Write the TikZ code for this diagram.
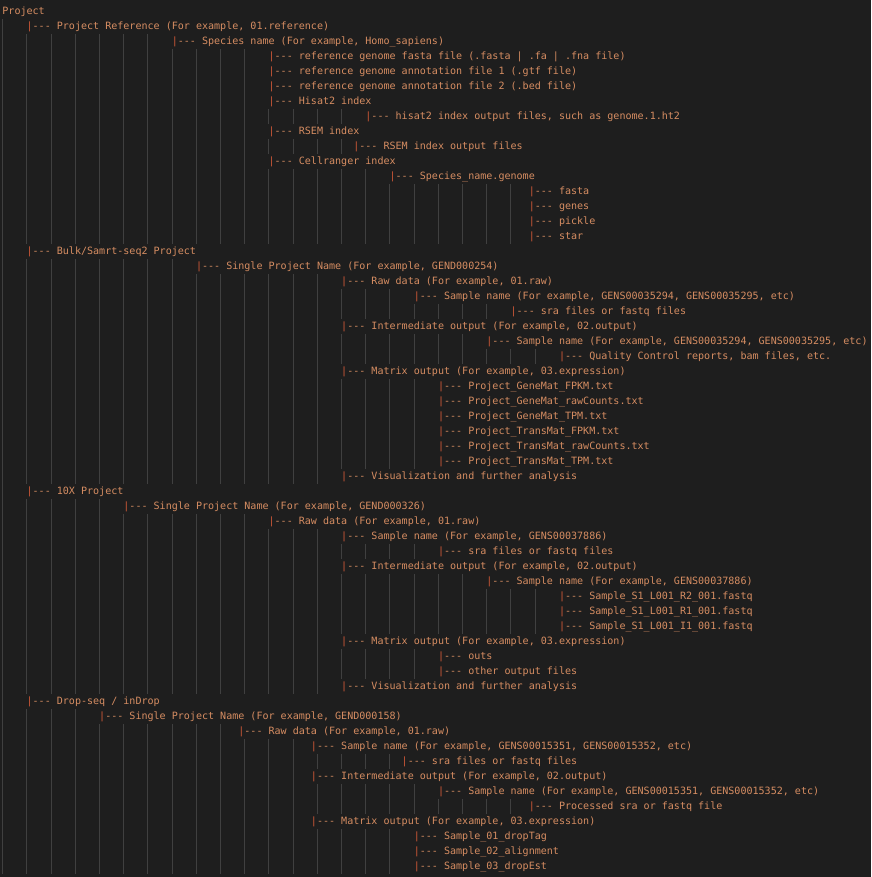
\documentclass[tikz,border=0pt]{standalone}
\usepackage{fontspec}
\setmonofont{DejaVu Sans Mono}
\usepackage{tikz}
\definecolor{editorbg}{HTML}{1E1E1E}
\definecolor{guidecol}{HTML}{404040}
\definecolor{textcol}{HTML}{D68D62}
\definecolor{barcol}{HTML}{D45A38}
\tikzset{
  entry/.style={anchor=base west, inner sep=0pt, text=textcol,
    font=\ttfamily\fontsize{10.05}{15}\selectfont},
  guide/.style={draw=guidecol, line width=1pt}
}
\newcommand{\vb}{\textcolor{barcol}{|}}
\newcommand{\treerow}[3]{%
  \node[entry] (r#1) at ({2.2+6.05*#2},{14.3+15.0*(#1-1)}) {#3};
  \ifnum#2>0
    \pgfmathtruncatemacro{\nlev}{(#2-1)/4}
    \foreach \k in {0,...,\nlev}
      \draw[guide] ({2.7+24.2*\k},{4.0+15.0*(#1-1)}) -- ++(0,15.0);
  \fi
}

\begin{document}
\begin{tikzpicture}[x=1pt,y=-1pt]
\fill[editorbg] (0,0) rectangle (871,877);
\useasboundingbox (0,0) rectangle (871,877);

\treerow{1}{0}{Project}
\treerow{2}{4}{\vb--- Project Reference (For example, 01.reference)}
\treerow{3}{28}{\vb--- Species name (For example, Homo\_sapiens)}
\treerow{4}{44}{\vb--- reference genome fasta file (.fasta | .fa | .fna file)}
\treerow{5}{44}{\vb--- reference genome annotation file 1 (.gtf file)}
\treerow{6}{44}{\vb--- reference genome annotation file 2 (.bed file)}
\treerow{7}{44}{\vb--- Hisat2 index}
\treerow{8}{60}{\vb--- hisat2 index output files, such as genome.1.ht2}
\treerow{9}{44}{\vb--- RSEM index}
\treerow{10}{58}{\vb--- RSEM index output files}
\treerow{11}{44}{\vb--- Cellranger index}
\treerow{12}{64}{\vb--- Species\_name.genome}
\treerow{13}{87}{\vb--- fasta}
\treerow{14}{87}{\vb--- genes}
\treerow{15}{87}{\vb--- pickle}
\treerow{16}{87}{\vb--- star}

\treerow{17}{4}{\vb--- Bulk/Samrt-seq2 Project}
\treerow{18}{32}{\vb--- Single Project Name (For example, GEND000254)}
\treerow{19}{56}{\vb--- Raw data (For example, 01.raw)}
\treerow{20}{68}{\vb--- Sample name (For example, GENS00035294, GENS00035295, etc)}
\treerow{21}{84}{\vb--- sra files or fastq files}
\treerow{22}{56}{\vb--- Intermediate output (For example, 02.output)}
\treerow{23}{80}{\vb--- Sample name (For example, GENS00035294, GENS00035295, etc)}
\treerow{24}{92}{\vb--- Quality Control reports, bam files, etc.}
\treerow{25}{56}{\vb--- Matrix output (For example, 03.expression)}
\treerow{26}{72}{\vb--- Project\_GeneMat\_FPKM.txt}
\treerow{27}{72}{\vb--- Project\_GeneMat\_rawCounts.txt}
\treerow{28}{72}{\vb--- Project\_GeneMat\_TPM.txt}
\treerow{29}{72}{\vb--- Project\_TransMat\_FPKM.txt}
\treerow{30}{72}{\vb--- Project\_TransMat\_rawCounts.txt}
\treerow{31}{72}{\vb--- Project\_TransMat\_TPM.txt}
\treerow{32}{56}{\vb--- Visualization and further analysis}

\treerow{33}{4}{\vb--- 10X Project}
\treerow{34}{20}{\vb--- Single Project Name (For example, GEND000326)}
\treerow{35}{44}{\vb--- Raw data (For example, 01.raw)}
\treerow{36}{56}{\vb--- Sample name (For example, GENS00037886)}
\treerow{37}{72}{\vb--- sra files or fastq files}
\treerow{38}{56}{\vb--- Intermediate output (For example, 02.output)}
\treerow{39}{80}{\vb--- Sample name (For example, GENS00037886)}
\treerow{40}{92}{\vb--- Sample\_S1\_L001\_R2\_001.fastq}
\treerow{41}{92}{\vb--- Sample\_S1\_L001\_R1\_001.fastq}
\treerow{42}{92}{\vb--- Sample\_S1\_L001\_I1\_001.fastq}
\treerow{43}{56}{\vb--- Matrix output (For example, 03.expression)}
\treerow{44}{72}{\vb--- outs}
\treerow{45}{72}{\vb--- other output files}
\treerow{46}{56}{\vb--- Visualization and further analysis}

\treerow{47}{4}{\vb--- Drop-seq / inDrop}
\treerow{48}{16}{\vb--- Single Project Name (For example, GEND000158)}
\treerow{49}{39}{\vb--- Raw data (For example, 01.raw)}
\treerow{50}{51}{\vb--- Sample name (For example, GENS00015351, GENS00015352, etc)}
\treerow{51}{66}{\vb--- sra files or fastq files}
\treerow{52}{51}{\vb--- Intermediate output (For example, 02.output)}
\treerow{53}{72}{\vb--- Sample name (For example, GENS00015351, GENS00015352, etc)}
\treerow{54}{87}{\vb--- Processed sra or fastq file}
\treerow{55}{51}{\vb--- Matrix output (For example, 03.expression)}
\treerow{56}{68}{\vb--- Sample\_01\_dropTag}
\treerow{57}{68}{\vb--- Sample\_02\_alignment}
\treerow{58}{68}{\vb--- Sample\_03\_dropEst}
\end{tikzpicture}
\end{document}
